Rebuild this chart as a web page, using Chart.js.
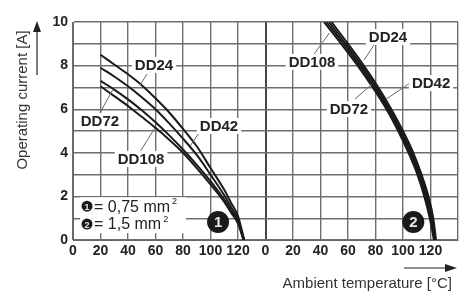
<!DOCTYPE html>
<html>
<head>
<meta charset="utf-8">
<script src="https://cdn.jsdelivr.net/npm/chart.js@4/dist/chart.umd.min.js"></script>
</head>
<body style="margin:0">
<canvas id="chart" width="461" height="304"></canvas>
<script>
// panel 1 (0,75 mm2): current [A] read at these temperatures
var tempSmall = [20, 30, 40, 50, 60, 70, 80, 90, 100, 110, 115, 120];
var dd24Small = [8.5, 8.05, 7.6, 7.1, 6.5, 5.85, 5.1, 4.3, 3.3, 2.3, 1.7, 1.1];
var dd42Small = [7.9, 7.5, 7.05, 6.55, 6.0, 5.35, 4.65, 3.9, 3.0, 2.05, 1.5, 0.95];
var dd72Small = [7.3, 6.9, 6.45, 5.95, 5.4, 4.8, 4.15, 3.45, 2.7, 1.85, 1.35, 0.85];
var dd108Small = [7.05, 6.6, 6.15, 5.65, 5.15, 4.6, 4.0, 3.3, 2.55, 1.75, 1.25, 0.75];
var zeroTempSmall = [124.5, 124.5, 124, 124];   // where each curve reaches 0 A

// panel 2 (1,5 mm2): temperature read at these current levels
var currentLarge = [10, 9, 8, 7, 6, 5, 4, 3, 2, 1, 0];
var dd24Large = [48, 60, 71.5, 82, 91.5, 100, 107.5, 113.5, 118.5, 122, 124];
var dd42Large = [46.2, 58.3, 70, 80.7, 90.3, 98.8, 106.3, 112.5, 117.5, 121.2, 123.5];
var dd72Large = [44.3, 56.7, 68.5, 79.3, 89.2, 97.7, 105.2, 111.5, 116.5, 120.3, 123];
var dd108Large = [42.5, 55, 67, 78, 88, 96.5, 104, 110.5, 115.5, 119.5, 122.5];

var xTickLabels = ['0', '20', '40', '60', '80', '100', '120', '0', '20', '40', '60', '80', '100', '120', ''];
var yTickLabels = ['0', '', '2', '', '4', '', '6', '', '8', '', '10'];

var PANEL2 = 140; // second panel starts here on the shared x axis
var FONT = '"Liberation Sans", Arial, sans-serif';
var INK = '#222';

function smallSeries(vals, zeroT) {
	var pts = tempSmall.map(function (t, i) { return { x: t, y: vals[i] }; });
	pts.push({ x: zeroT, y: 0 });
	return pts;
}
function largeSeries(temps) {
	return temps.map(function (t, i) { return { x: t + PANEL2, y: currentLarge[i] }; });
}
function curve(data) {
	return {
		data: data,
		borderColor: '#1a1a1a',
		borderWidth: 2,
		pointRadius: 0,
		fill: false,
		cubicInterpolationMode: 'monotone'
	};
}

// annotation positions in axis units
var curveLabels = [
	{ text: 'DD24', at: [58.9, 8.03], from: [53.8, 7.61], to: [48.7, 7.1] },
	{ text: 'DD42', at: [106.2, 5.23], from: [91.6, 4.91], to: [85.1, 4.3] },
	{ text: 'DD72', at: [19.6, 5.46], from: [19.6, 5.83], to: [29.1, 6.92] },
	{ text: 'DD108', at: [49.5, 3.72], from: [48.7, 4.04], to: [59.6, 5.14] },
	{ text: 'DD24', at: [229.1, 9.31], from: [218.9, 8.94], to: [211.6, 8.25] },
	{ text: 'DD108', at: [173.8, 8.17], from: [175.3, 8.53], to: [186.5, 9.5] },
	{ text: 'DD42', at: [260.4, 7.2], from: [245.1, 7.2], to: [227.5, 6.45] },
	{ text: 'DD72', at: [200.7, 6.0], from: [205.1, 6.47], to: [217.5, 7.15] }
];

function disc(ctx, x, y, r, label, size) {
	ctx.beginPath();
	ctx.arc(x, y, r, 0, Math.PI * 2);
	ctx.fillStyle = '#1a1a1a';
	ctx.fill();
	ctx.fillStyle = '#e8e8e8';
	ctx.font = 'bold ' + size + 'px ' + FONT;
	ctx.textAlign = 'center';
	ctx.textBaseline = 'middle';
	ctx.fillText(label, x, y + 1);
}

var extras = {
	id: 'extras',
	afterDraw: function (chart) {
		var ctx = chart.ctx, xs = chart.scales.x, ys = chart.scales.y;
		function px(v) { return xs.getPixelForValue(v); }
		function py(v) { return ys.getPixelForValue(v); }
		ctx.save();

		// curve labels with leader lines
		curveLabels.forEach(function (l) {
			ctx.strokeStyle = '#666';
			ctx.lineWidth = 1;
			ctx.beginPath();
			ctx.moveTo(px(l.from[0]), py(l.from[1]));
			ctx.lineTo(px(l.to[0]), py(l.to[1]));
			ctx.stroke();
			ctx.font = 'bold 15px ' + FONT;
			var w = ctx.measureText(l.text).width;
			var cx = px(l.at[0]), cy = py(l.at[1]);
			ctx.fillStyle = '#fff';
			ctx.fillRect(cx - w / 2 - 3, cy - 8, w + 6, 16);
			ctx.fillStyle = INK;
			ctx.textAlign = 'center';
			ctx.textBaseline = 'middle';
			ctx.fillText(l.text, cx, cy + 1);
		});

		// cross-section legend
		var lx = px(10.2), ly1 = py(1.55), ly2 = py(0.73);
		ctx.fillStyle = '#fff';
		ctx.fillRect(lx - 7, ly1 - 9, 106, 36);
		[[ly1, '1', '= 0,75 mm'], [ly2, '2', '= 1,5 mm']].forEach(function (row) {
			disc(ctx, lx, row[0], 5.5, row[1], 9);
			ctx.fillStyle = INK;
			ctx.font = '16px ' + FONT;
			ctx.textAlign = 'left';
			ctx.textBaseline = 'middle';
			ctx.fillText(row[2], lx + 7, row[0] + 1);
			var w = ctx.measureText(row[2]).width;
			ctx.font = '9px ' + FONT;
			ctx.fillText('2', lx + 9 + w, row[0] - 5);
		});

		// panel markers
		disc(ctx, px(105.5), py(0.83), 11, '1', 15);
		disc(ctx, px(247.5), py(0.83), 11, '2', 15);

		// axis titles and arrows
		ctx.fillStyle = '#333';
		ctx.strokeStyle = INK;
		ctx.lineWidth = 1.2;
		ctx.font = '15px ' + FONT;
		ctx.save();
		ctx.translate(23, 100);
		ctx.rotate(-Math.PI / 2);
		ctx.textAlign = 'center';
		ctx.textBaseline = 'middle';
		ctx.fillText('Operating current [A]', 0, 0);
		ctx.restore();
		ctx.beginPath();
		ctx.moveTo(37, 75); ctx.lineTo(37, 30); ctx.stroke();
		ctx.beginPath();
		ctx.moveTo(37, 21); ctx.lineTo(33, 32); ctx.lineTo(41, 32); ctx.closePath();
		ctx.fillStyle = INK; ctx.fill();

		ctx.fillStyle = '#333';
		ctx.textAlign = 'right';
		ctx.textBaseline = 'middle';
		ctx.fillText('Ambient temperature [°C]', 452, 284);
		ctx.beginPath();
		ctx.moveTo(404, 268); ctx.lineTo(447, 268); ctx.stroke();
		ctx.beginPath();
		ctx.moveTo(457, 268); ctx.lineTo(445, 264); ctx.lineTo(445, 272); ctx.closePath();
		ctx.fillStyle = INK; ctx.fill();

		ctx.restore();
	}
};

new Chart(document.getElementById('chart'), {
	type: 'line',
	data: {
		datasets: [
			curve(smallSeries(dd24Small, zeroTempSmall[0])),
			curve(smallSeries(dd42Small, zeroTempSmall[1])),
			curve(smallSeries(dd72Small, zeroTempSmall[2])),
			curve(smallSeries(dd108Small, zeroTempSmall[3])),
			curve(largeSeries(dd24Large)),
			curve(largeSeries(dd42Large)),
			curve(largeSeries(dd72Large)),
			curve(largeSeries(dd108Large))
		]
	},
	options: {
		responsive: false,
		animation: false,
		devicePixelRatio: 1,
		layout: { padding: { top: 22, right: 3, left: 0, bottom: 0 } },
		plugins: { legend: { display: false }, tooltip: { enabled: false } },
		scales: {
			x: {
				type: 'linear',
				min: 0,
				max: 280,
				afterFit: function (s) { s.height = 64; },
				ticks: {
					stepSize: 20,
					autoSkip: false,
					maxRotation: 0,
					padding: 3,
					color: INK,
					font: { family: FONT, size: 14, weight: 'bold' },
					callback: function (v, i) { return xTickLabels[i]; }
				},
				grid: {
					drawTicks: false,
					color: function (c) { return c.tick && c.tick.value === PANEL2 ? '#444' : '#6e6e6e'; },
					lineWidth: function (c) { return c.tick && c.tick.value === PANEL2 ? 2 : 1.4; }
				},
				border: { color: '#666' }
			},
			y: {
				min: 0,
				max: 10,
				afterFit: function (s) { s.width = 73; },
				ticks: {
					stepSize: 1,
					autoSkip: false,
					padding: 5,
					color: INK,
					font: { family: FONT, size: 14, weight: 'bold' },
					callback: function (v, i) { return yTickLabels[i]; }
				},
				grid: { drawTicks: false, color: '#6e6e6e', lineWidth: 1.4 },
				border: { color: '#666' }
			}
		}
	},
	plugins: [extras]
});
</script>
</body>
</html>
